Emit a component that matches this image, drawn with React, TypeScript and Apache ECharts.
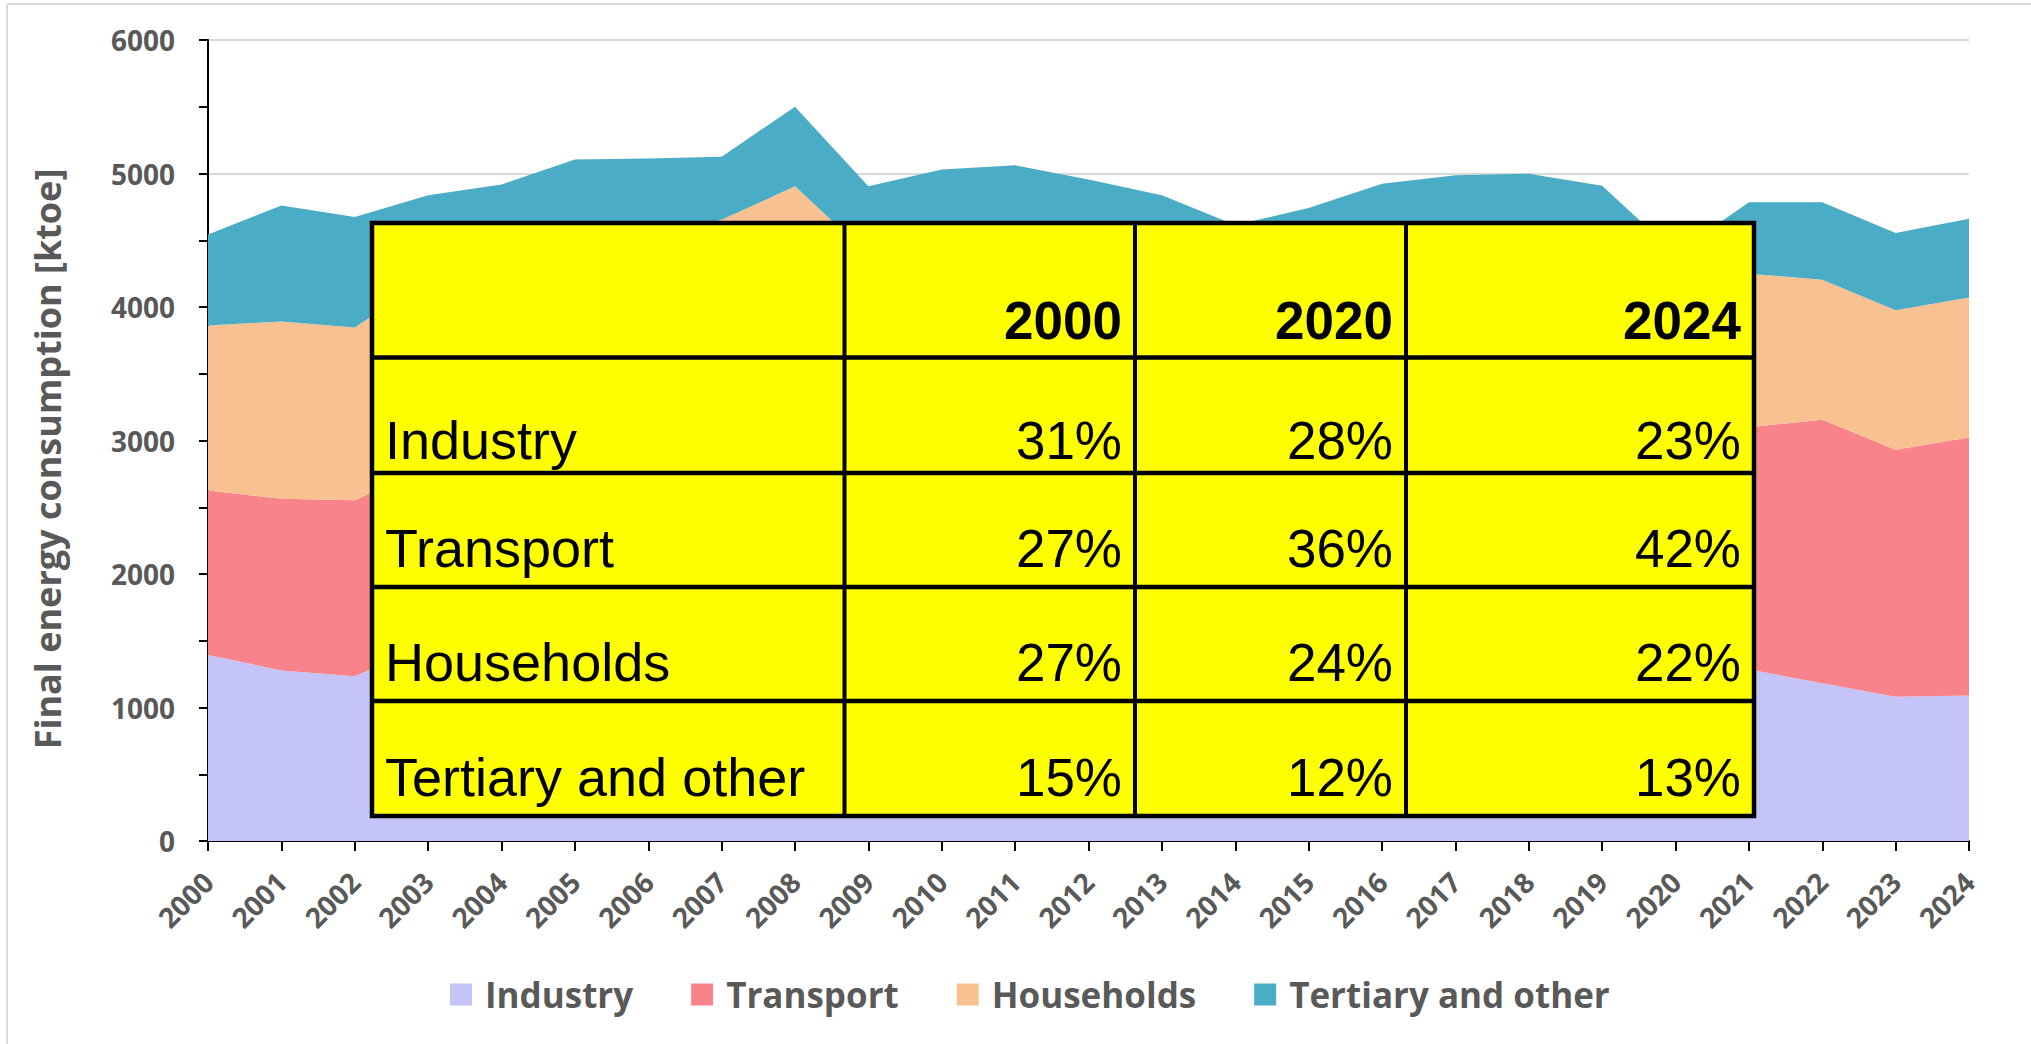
import React, { useEffect, useRef } from "react";
import * as echarts from "echarts";

const years = ["2000","2001","2002","2003","2004","2005","2006","2007","2008","2009","2010","2011","2012","2013","2014","2015","2016","2017","2018","2019","2020","2021","2022","2023","2024"];
const industry = [1394,1277,1235,1470,1490,1500,1510,1500,1420,1180,1230,1250,1240,1230,1250,1270,1300,1320,1330,1300,1232,1286,1181,1081,1089];
const transport = [1231,1287,1317,1327,1420,1560,1620,1790,2130,1900,1880,1880,1860,1830,1780,1790,1870,1890,1910,1920,1584,1814,1974,1849,1934];
const households = [1237,1328,1294,1412,1340,1320,1397,1363,1354,1311,1250,1220,1160,1140,1000,1060,1090,1100,1070,1060,1056,1150,1050,1045,1049];
const tertiary = [681,868,829,628,668,725,585,473,596,513,670,711,695,638,585,621,664,676,688,629,528,535,580,580,589];

const seriesNames = ["Industry", "Transport", "Households", "Tertiary and other"];
const seriesColors = ["#c4c4f8", "#f9838b", "#f8c191", "#4bacc6"];

const tableYears = ["2000", "2020", "2024"];
const tableSectors = ["Industry", "Transport", "Households", "Tertiary and other"];
const share2000 = ["31%", "27%", "27%", "15%"];
const share2020 = ["28%", "36%", "24%", "12%"];
const share2024 = ["23%", "42%", "22%", "13%"];

const W = 2031;
const H = 1044;

function buildTable() {
  const colX = [372, 844.5, 1135, 1406, 1754];
  const rowY = [223, 357.5, 473, 587, 701, 816];
  const pads = [18, 14, 20, 20, 20];
  const fs = 54;
  const mid = fs * 0.3465;
  const els: any[] = [];
  els.push({
    type: "rect",
    shape: { x: colX[0], y: rowY[0], width: colX[4] - colX[0], height: rowY[5] - rowY[0] },
    style: { fill: "#ffff00", stroke: "#000", lineWidth: 4.5 },
    z: 100,
  });
  for (let i = 1; i < colX.length - 1; i++) {
    els.push({
      type: "line",
      shape: { x1: colX[i], y1: rowY[0], x2: colX[i], y2: rowY[5] },
      style: { stroke: "#000", lineWidth: 4 },
      z: 101,
    });
  }
  for (let j = 1; j < rowY.length - 1; j++) {
    els.push({
      type: "line",
      shape: { x1: colX[0], y1: rowY[j], x2: colX[4], y2: rowY[j] },
      style: { stroke: "#000", lineWidth: 4.5 },
      z: 101,
    });
  }
  const font = "Liberation Sans, Arial, sans-serif";
  tableYears.forEach((yr, c) => {
    els.push({
      type: "text",
      x: colX[c + 2] - 13,
      y: rowY[1] - pads[0] - mid,
      style: { text: yr, fontFamily: font, fontSize: 53, fontWeight: "bold", fill: "#000", align: "right", verticalAlign: "middle" },
      z: 102,
    });
  });
  const cols = [share2000, share2020, share2024];
  tableSectors.forEach((name, r) => {
    const yb = rowY[r + 2] - pads[r + 1] - mid;
    els.push({
      type: "text",
      x: colX[0] + 13,
      y: yb,
      style: { text: name, fontFamily: font, fontSize: fs, fill: "#000", align: "left", verticalAlign: "middle" },
      z: 102,
    });
    cols.forEach((col, c) => {
      els.push({
        type: "text",
        x: colX[c + 2] - 13,
        y: yb,
        style: { text: col[r], fontFamily: font, fontSize: 53, fill: "#000", align: "right", verticalAlign: "middle" },
        z: 102,
      });
    });
  });
  return els;
}

export default function App() {
  const ref = useRef<HTMLDivElement>(null);
  useEffect(() => {
    if (!ref.current) return;
    const chart = echarts.init(ref.current, undefined, { renderer: "svg" });
    const gray = "#595959";
    const values = [industry, transport, households, tertiary];
    chart.setOption({
      animation: false,
      backgroundColor: "#ffffff",
      grid: { left: 208, right: W - 1969, top: 40, bottom: H - 841, containLabel: false },
      legend: {
        data: seriesNames,
        left: 445,
        top: 972,
        itemWidth: 22,
        itemHeight: 22,
        itemGap: 58,
        icon: "rect",
        selectedMode: false,
        textStyle: { fontFamily: "Open Sans", fontWeight: "bold", fontSize: 35, color: gray, padding: [0, 0, 0, 8] },
      },
      xAxis: {
        type: "category",
        data: years,
        boundaryGap: false,
        axisLine: { show: true, lineStyle: { color: "#000", width: 2 } },
        axisTick: { show: true, length: 10, lineStyle: { color: "#000", width: 2 } },
        axisLabel: { rotate: 45, margin: 36, interval: 0, fontFamily: "Open Sans", fontWeight: "bold", fontSize: 28, color: gray },
        splitLine: { show: false },
      },
      yAxis: {
        type: "value",
        min: 0,
        max: 6000,
        interval: 1000,
        axisLine: { show: true, lineStyle: { color: "#000", width: 2 } },
        axisTick: { show: true, length: 9, lineStyle: { color: "#000", width: 2 } },
        minorTick: { show: true, splitNumber: 2, length: 9, lineStyle: { color: "#000", width: 2 } },
        axisLabel: {
          margin: 33,
          fontFamily: "Open Sans",
          fontWeight: "bold",
          fontSize: 28,
          color: gray,
          formatter: (v: number) => String(v),
        },
        splitLine: { show: true, lineStyle: { color: "#d9d9d9", width: 2 } },
      },
      series: seriesNames.map((name, i) => ({
        name,
        type: "line",
        stack: "total",
        data: values[i],
        symbol: "none",
        showSymbol: false,
        lineStyle: { width: 0, color: seriesColors[i] },
        itemStyle: { color: seriesColors[i] },
        areaStyle: { color: seriesColors[i], opacity: 1 },
        emphasis: { disabled: true },
        silent: true,
      })),
      graphic: [
        {
          type: "line",
          shape: { x1: 7, y1: 4, x2: W, y2: 4 },
          style: { stroke: "#d9d9d9", lineWidth: 2 },
        },
        {
          type: "line",
          shape: { x1: 7, y1: 4, x2: 7, y2: H },
          style: { stroke: "#d9d9d9", lineWidth: 2 },
        },
        {
          type: "text",
          x: 47,
          y: 459,
          rotation: Math.PI / 2,
          style: {
            text: "Final energy consumption [ktoe]",
            fontFamily: "Open Sans",
            fontWeight: "bold",
            fontSize: 36,
            fill: gray,
            align: "center",
            verticalAlign: "middle",
          },
        },
        ...buildTable(),
      ],
    });
    return () => chart.dispose();
  }, []);
  return <div ref={ref} style={{ position: "fixed", left: 0, top: 0, width: W, height: H }} />;
}
